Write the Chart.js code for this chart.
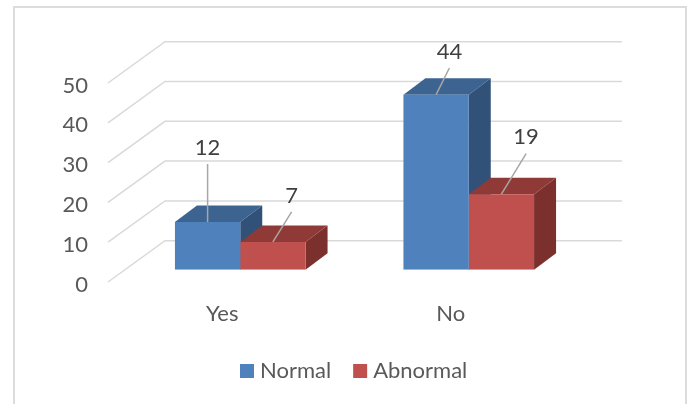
<!DOCTYPE html>
<html>
<head>
<meta charset="utf-8">
<script src="https://cdn.jsdelivr.net/npm/chart.js@4"></script>
<style>
  html, body { margin: 0; padding: 0; background: #fff; overflow: hidden; }
  #wrap { position: absolute; left: 0; top: 0; width: 687px; height: 404px; overflow: hidden; }
  #frame { position: absolute; left: 13px; top: 6px; width: 670px; height: 420px; border: 2px solid #dcdcdc; }
</style>
</head>
<body>
<div id="wrap">
  <div id="frame"></div>
  <canvas id="c" width="687" height="404" style="position:absolute;left:0;top:0"></canvas>
</div>
<script>
const categories = ['Yes', 'No'];
const normalValues = [12, 44];
const abnormalValues = [7, 19];
const yTicks = [0, 10, 20, 30, 40, 50];

const FONT = 'Lato, sans-serif';
const FONT_SIZE = 22;

// Shades for the visible faces of each 3D column: front, top, side.
const faces = {
  Normal:   { front: '#4f81bd', top: '#3d6491', side: '#315179' },
  Abnormal: { front: '#c0504d', top: '#903a38', side: '#7c302e' }
};

// Projection of the floor: full depth of the plot, depth of a column.
const wallShift = { x: 57, y: -41.3 };
const barDepth = { x: 22, y: -16.5 };
const barShift = { x: 18, y: -12.2 };
const yLabelDrop = 2.5;

// Leader from each column's top edge to its value label, per dataset then category.
const leaders = [
  [{ x: 0, y: -58 }, { x: 13.3, y: -26.7 }],
  [{ x: 18.7, y: -30 }, { x: 24.7, y: -40.5 }]
];

function poly(ctx, pts, fill) {
  ctx.beginPath();
  pts.forEach((p, i) => i ? ctx.lineTo(p[0], p[1]) : ctx.moveTo(p[0], p[1]));
  ctx.closePath();
  ctx.fillStyle = fill;
  ctx.fill();
}

const box3d = {
  id: 'box3d',
  afterLayout(chart) {
    // The value axis labels sit slightly below their grid level.
    const y = chart.scales.y;
    if (y.drawLabels.shifted) return;
    const draw = y.drawLabels;
    y.drawLabels = function (area) {
      chart.ctx.save();
      chart.ctx.translate(0, yLabelDrop);
      draw.call(y, area);
      chart.ctx.restore();
    };
    y.drawLabels.shifted = true;
  },
  beforeDatasetsDraw(chart) {
    const { ctx, scales: { y }, chartArea: area } = chart;
    ctx.save();
    // Side wall diagonals and back wall lines for each tick.
    ctx.strokeStyle = '#d9d9d9';
    ctx.lineWidth = 1.5;
    y.ticks.forEach(t => {
      const py = y.getPixelForValue(t.value);
      ctx.beginPath();
      ctx.moveTo(area.left, py);
      ctx.lineTo(area.left + wallShift.x, py + wallShift.y);
      ctx.lineTo(area.right + wallShift.x, py + wallShift.y);
      ctx.stroke();
    });
    // Top and side faces, Normal first so Abnormal overlaps it.
    chart.data.datasets.forEach((ds, di) => {
      const shade = faces[ds.label];
      chart.getDatasetMeta(di).data.forEach(bar => {
        const l = bar.x - bar.width / 2 + barShift.x;
        const r = bar.x + bar.width / 2 + barShift.x;
        const t = bar.y + barShift.y;
        const b = bar.base + barShift.y;
        poly(ctx, [[l, t], [r, t], [r + barDepth.x, t + barDepth.y], [l + barDepth.x, t + barDepth.y]], shade.top);
        poly(ctx, [[r, t], [r + barDepth.x, t + barDepth.y], [r + barDepth.x, b + barDepth.y], [r, b]], shade.side);
      });
    });
    ctx.restore();
    // Front faces come from the library's own bars, moved to mid depth.
    ctx.save();
    ctx.translate(barShift.x, barShift.y);
  },
  afterDatasetsDraw(chart) {
    const { ctx } = chart;
    ctx.restore();
    ctx.save();
    // Value labels with their leader lines.
    chart.data.datasets.forEach((ds, di) => {
      chart.getDatasetMeta(di).data.forEach((bar, i) => {
        const x0 = bar.x + barShift.x;
        const y0 = bar.y + barShift.y;
        const off = leaders[di][i];
        ctx.strokeStyle = '#a6a6a6';
        ctx.lineWidth = 1.5;
        ctx.beginPath();
        ctx.moveTo(x0, y0);
        ctx.lineTo(x0 + off.x, y0 + off.y);
        ctx.stroke();
        ctx.fillStyle = '#404040';
        ctx.font = FONT_SIZE + 'px ' + FONT;
        ctx.textAlign = 'center';
        ctx.textBaseline = 'middle';
        ctx.fillText(String(ds.data[i]), x0 + off.x, y0 + off.y - 16.5);
      });
    });
    // Legend row built from the dataset names and colours.
    ctx.font = FONT_SIZE + 'px ' + FONT;
    ctx.textAlign = 'left';
    ctx.textBaseline = 'middle';
    const swatch = 14, gap = 6, between = 22, rowY = 371;
    const widths = chart.data.datasets.map(ds => swatch + gap + ctx.measureText(ds.label).width);
    let x = 240;
    chart.data.datasets.forEach((ds, di) => {
      ctx.fillStyle = faces[ds.label].front;
      ctx.fillRect(x, rowY - swatch / 2, swatch, swatch);
      ctx.fillStyle = '#595959';
      ctx.fillText(ds.label, x + swatch + gap, rowY);
      x += widths[di] + between;
    });
    ctx.restore();
  }
};

new Chart(document.getElementById('c'), {
  type: 'bar',
  data: {
    labels: categories,
    datasets: [
      { label: 'Normal', data: normalValues, backgroundColor: faces.Normal.front, borderWidth: 0 },
      { label: 'Abnormal', data: abnormalValues, backgroundColor: faces.Abnormal.front, borderWidth: 0 }
    ]
  },
  options: {
    responsive: false,
    animation: false,
    layout: { padding: { left: 0, right: 122, top: 83, bottom: 0 } },
    datasets: { bar: { categoryPercentage: 0.5716, barPercentage: 1 } },
    plugins: { legend: { display: false }, tooltip: { enabled: false } },
    scales: {
      x: {
        grid: { display: false, drawTicks: false },
        border: { display: false },
        ticks: { color: '#595959', font: { family: FONT, size: FONT_SIZE }, padding: 19, maxRotation: 0 },
        afterFit(s) { s.height = 122; }
      },
      y: {
        min: 0,
        max: 50,
        afterBuildTicks(s) { s.ticks = yTicks.map(value => ({ value })); },
        grid: { display: false, drawTicks: false },
        border: { display: false },
        ticks: { color: '#595959', font: { family: FONT, size: FONT_SIZE }, padding: 20 },
        afterFit(s) { s.width = 108; }
      }
    }
  },
  plugins: [box3d]
});
</script>
</body>
</html>
